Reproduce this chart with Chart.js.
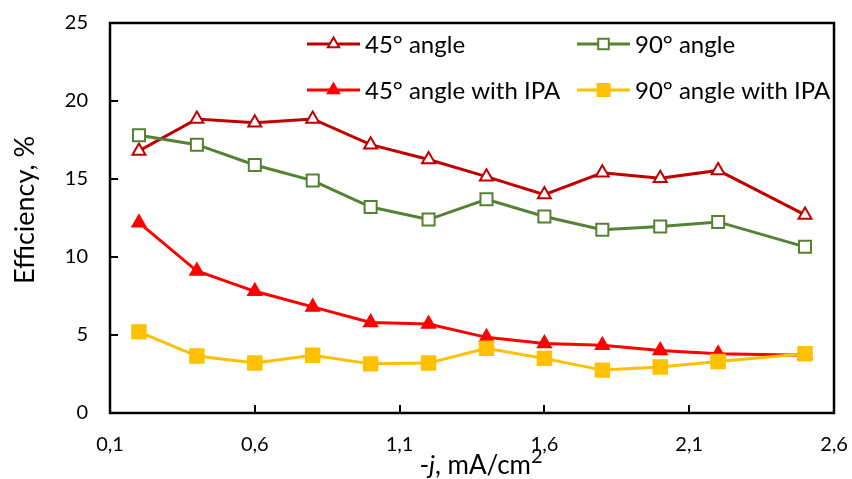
<!DOCTYPE html>
<html>
<head>
<meta charset="utf-8">
<script src="https://cdn.jsdelivr.net/npm/chart.js@4"></script>
<style>
html,body{margin:0;padding:0;background:#fff;}
#wrap{width:852px;height:479px;position:relative;}
</style>
</head>
<body>
<div id="wrap"><canvas id="c" width="852" height="479"></canvas></div>
<script>
const currents = [0.2, 0.4, 0.6, 0.8, 1.0, 1.2, 1.4, 1.6, 1.8, 2.0, 2.2, 2.5];
const angle45 = [16.8, 18.85, 18.6, 18.85, 17.2, 16.25, 15.15, 14.0, 15.4, 15.05, 15.55, 12.7];
const angle90 = [17.8, 17.2, 15.9, 14.9, 13.2, 12.4, 13.7, 12.6, 11.75, 11.95, 12.25, 10.65];
const angle45IPA = [12.2, 9.1, 7.8, 6.8, 5.8, 5.7, 4.85, 4.45, 4.35, 4.0, 3.8, 3.7];
const angle90IPA = [5.2, 3.65, 3.2, 3.7, 3.15, 3.2, 4.15, 3.5, 2.75, 2.95, 3.3, 3.8];
const seriesNames = ['45° angle', '90° angle', '45° angle with IPA', '90° angle with IPA'];
const xTickValues = [0.1, 0.6, 1.1, 1.6, 2.1, 2.6];
const yTickValues = [0, 5, 10, 15, 20, 25];

const FONT = 'Lato, "Open Sans", sans-serif';
const pts = arr => arr.map((v, i) => ({x: currents[i], y: v}));

const styles = [
  {color: '#C00000', style: 'triangle', fill: '#FFFFFF', r: 7.5},
  {color: '#548235', style: 'rect', fill: '#FFFFFF', r: 8.5},
  {color: '#FF0000', style: 'triangle', fill: '#FF0000', r: 7.5},
  {color: '#FFC000', style: 'rect', fill: '#FFC000', r: 9.5}
];
const dataArrs = [angle45, angle90, angle45IPA, angle90IPA];
const drawOrder = [3, 2, 1, 0];

const datasets = drawOrder.map(k => ({
  label: seriesNames[k],
  data: pts(dataArrs[k]),
  borderColor: styles[k].color,
  backgroundColor: styles[k].fill,
  borderWidth: 3,
  pointStyle: styles[k].style,
  pointRadius: styles[k].r,
  pointHoverRadius: styles[k].r,
  pointBorderWidth: 2,
  pointBackgroundColor: styles[k].fill,
  pointBorderColor: styles[k].color,
  tension: 0,
  fill: false
}));

const framePlugin = {
  id: 'frame',
  afterDraw(chart) {
    const {ctx, chartArea: a, scales} = chart;
    ctx.save();
    ctx.strokeStyle = '#000';
    ctx.lineWidth = 2.5;
    ctx.strokeRect(a.left, a.top, a.right - a.left, a.bottom - a.top);
    // inward ticks
    ctx.lineWidth = 2;
    xTickValues.slice(1, -1).forEach(v => {
      const x = Math.round(scales.x.getPixelForValue(v));
      ctx.beginPath(); ctx.moveTo(x, a.bottom); ctx.lineTo(x, a.bottom - 8); ctx.stroke();
    });
    yTickValues.slice(1, -1).forEach(v => {
      const y = Math.round(scales.y.getPixelForValue(v));
      ctx.beginPath(); ctx.moveTo(a.left, y); ctx.lineTo(a.left + 8, y); ctx.stroke();
    });
    // legend
    const cols = [307, 577];
    const rows = [44, 90];
    const order = [[0, 1], [2, 3]];
    ctx.textBaseline = 'middle';
    ctx.textAlign = 'left';
    ctx.font = '24px ' + FONT;
    order.forEach((row, ri) => row.forEach((k, ci) => {
      const x0 = cols[ci], y0 = rows[ri];
      const s = styles[k];
      ctx.strokeStyle = s.color; ctx.lineWidth = 3;
      ctx.beginPath(); ctx.moveTo(x0, y0); ctx.lineTo(x0 + 53, y0); ctx.stroke();
      ctx.save();
      ctx.fillStyle = s.fill; ctx.strokeStyle = s.color; ctx.lineWidth = 2;
      Chart.helpers.drawPoint(ctx, {pointStyle: s.style, radius: s.r - 1, borderWidth: 2, rotation: 0}, x0 + 26.5, y0);
      ctx.restore();
      ctx.fillStyle = '#000';
      ctx.fillText(seriesNames[k], x0 + 58, y0 + 1);
    }));
    // axis titles
    ctx.fillStyle = '#000';
    ctx.save();
    ctx.translate(12, 210);
    ctx.rotate(-Math.PI / 2);
    ctx.textAlign = 'center';
    ctx.textBaseline = 'top';
    ctx.font = '27px ' + FONT;
    ctx.fillText('Efficiency, %', 0, 0);
    ctx.restore();
    // x title with italic j and superscript
    const parts = [
      {t: '-', f: '26px ' + FONT, dy: 0},
      {t: 'j', f: 'italic 26px ' + FONT, dy: 0},
      {t: ', mA/cm', f: '26px ' + FONT, dy: 0},
      {t: '2', f: '20px ' + FONT, dy: -11}
    ];
    ctx.textBaseline = 'alphabetic';
    let total = 0;
    parts.forEach(p => { ctx.font = p.f; p.w = ctx.measureText(p.t).width; total += p.w; });
    let x = 481 - total / 2;
    parts.forEach(p => { ctx.font = p.f; ctx.fillText(p.t, x, 474 + p.dy); x += p.w; });
    ctx.restore();
  }
};

new Chart(document.getElementById('c'), {
  type: 'line',
  data: {datasets},
  options: {
    responsive: false,
    animation: false,
    events: [],
    layout: {padding: {left: 0, top: 23, right: 18, bottom: 0}},
    plugins: {legend: {display: false}, tooltip: {enabled: false}},
    scales: {
      x: {
        type: 'linear', min: 0.1, max: 2.6,
        afterBuildTicks: s => { s.ticks = xTickValues.map(v => ({value: v})); },
        afterFit: s => { s.height = 66; s.paddingLeft = 0; s.paddingRight = 0; s.paddingTop = 0; s.paddingBottom = 0; },
        grid: {display: false, drawTicks: false},
        border: {display: false},
        ticks: {
          padding: 20, color: '#000', font: {family: FONT, size: 20},
          maxRotation: 0, autoSkip: false,
          callback: v => Number(v).toFixed(1).replace('.', ',')
        }
      },
      y: {
        type: 'linear', min: 0, max: 25,
        afterBuildTicks: s => { s.ticks = yTickValues.map(v => ({value: v})); },
        afterFit: s => { s.width = 110; s.paddingLeft = 0; s.paddingRight = 0; s.paddingTop = 0; s.paddingBottom = 0; },
        grid: {display: false, drawTicks: false},
        border: {display: false},
        ticks: {
          padding: 22, color: '#000', font: {family: FONT, size: 20},
          callback: v => String(v)
        }
      }
    }
  },
  plugins: [framePlugin]
});
</script>
</body>
</html>
